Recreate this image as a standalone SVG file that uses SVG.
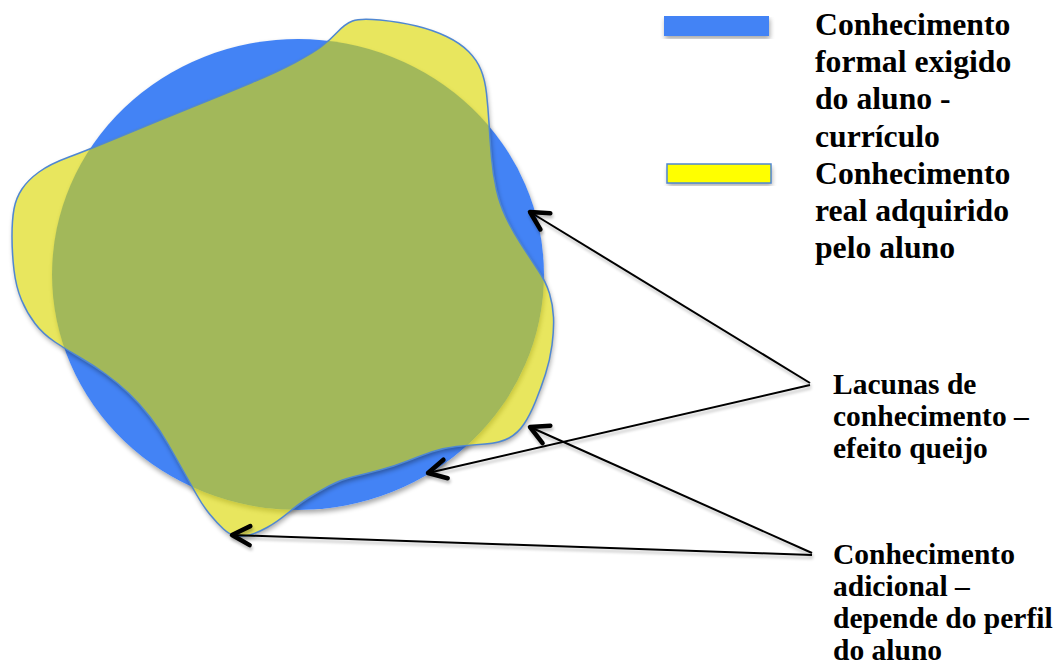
<svg xmlns="http://www.w3.org/2000/svg" width="1057" height="666" viewBox="0 0 1057 666">
  <defs>
    <style>
      .label { font-family: "Liberation Serif", "Times New Roman", serif; font-weight: bold; fill: #000; }
      .legend { font-size: 31.7px; }
      .note { font-size: 29.5px; }
      .conn { fill: none; stroke: #000; stroke-width: 2; marker-end: url(#arrow); }
    </style>
    <!-- soft drop shadow kept outside the casting shape -->
    <filter id="outerShadow" x="-10%" y="-10%" width="120%" height="125%">
      <feGaussianBlur in="SourceAlpha" stdDeviation="2.5"/>
      <feOffset dx="1" dy="3" result="blur"/>
      <feComponentTransfer><feFuncA type="linear" slope="0.35"/></feComponentTransfer>
      <feComposite in2="SourceAlpha" operator="out"/>
    </filter>
    <filter id="lineShadow" x="-5%" y="-20%" width="110%" height="140%">
      <feGaussianBlur in="SourceAlpha" stdDeviation="1.5"/>
      <feOffset dx="1" dy="2.5"/>
      <feComponentTransfer><feFuncA type="linear" slope="0.25"/></feComponentTransfer>
      <feMerge><feMergeNode/><feMergeNode in="SourceGraphic"/></feMerge>
    </filter>
    <marker id="arrow" markerUnits="userSpaceOnUse" viewBox="-24 -14 28 28" refX="0" refY="0" markerWidth="28" markerHeight="28" orient="auto" overflow="visible">
      <path d="M -18 -9.5 L 0 0 L -18 9.5" fill="none" stroke="#000" stroke-width="4.5" stroke-linecap="round" stroke-linejoin="round"/>
    </marker>
    <path id="blobShape" d="M 352.5 21 Q 360 18 380 20 Q 400 22 416.5 26 Q 433 30 446.5 36.5 Q 460 43 468.5 51.5 Q 477 60 481 70 Q 485 80 486.5 93.5 Q 488 107 489 123.5 Q 490 140 491.5 157.5 Q 493 175 496.5 190 Q 500 205 506 217.5 Q 512 230 521 244 Q 530 258 538 270 Q 546 282 549.5 293.5 Q 553 305 553.5 317.5 Q 554 330 552 345 Q 550 360 545.5 374 Q 541 388 535.5 401.5 Q 530 415 524 424 Q 518 433 509 438 Q 500 443 485 444 Q 470 445 456.5 446.5 Q 443 448 431.5 452 Q 420 456 407.5 461 Q 395 466 380 470 Q 365 474 352.5 477 Q 340 480 329 486 Q 318 492 309 497.5 Q 300 503 288.5 512.5 Q 277 522 267 527.5 Q 257 533 249.5 535 Q 242 537 236 536 Q 230 535 223.5 529 Q 217 523 210 514.5 Q 203 506 196.5 494.5 Q 190 483 183 470.5 Q 176 458 168 444 Q 160 430 150 417 Q 140 404 129 393.5 Q 118 383 105.5 374 Q 93 365 80 357.5 Q 67 350 55 342 Q 43 334 35 323.5 Q 27 313 21.5 300 Q 16 287 14 270 Q 12 253 12 236.5 Q 12 220 14 209 Q 16 198 22 189 Q 28 180 39 172 Q 50 164 69 157 Q 88 150 124 135 Q 160 120 193.5 106.5 Q 227 93 252 82.5 Q 277 72 295 62.5 Q 313 53 321.5 46.5 Q 330 40 337.5 32 Q 345 24 352.5 21 Z"/>
  </defs>

  <rect width="1057" height="666" fill="#fff"/>

  <!-- required curriculum: blue disc -->
  <g id="curriculo">
    <ellipse cx="298" cy="274.5" rx="246" ry="235.5" fill="#000" filter="url(#outerShadow)"/>
    <ellipse cx="298" cy="274.5" rx="246" ry="235.5" fill="#4383f5"/>
  </g>

  <!-- acquired knowledge: translucent yellow blob -->
  <g id="conhecimento-real">
    <use href="#blobShape" fill="#000" filter="url(#outerShadow)"/>
    <use href="#blobShape" fill="#dad700" fill-opacity="0.63" stroke="#4f87d2" stroke-width="1.5"/>
  </g>

  <!-- legend -->
  <g id="legenda-formal">
    <rect x="664" y="16" width="105" height="20" fill="#000" filter="url(#outerShadow)"/>
    <rect x="664" y="16" width="105" height="20" fill="#4383f5"/>
    <text class="label legend" x="815">
      <tspan x="815" y="35">Conhecimento</tspan>
      <tspan x="815" y="72.2">formal exigido</tspan>
      <tspan x="815" y="109.4">do aluno -</tspan>
      <tspan x="815" y="146.6">currículo</tspan>
    </text>
  </g>
  <g id="legenda-real">
    <rect x="667" y="164" width="104" height="19" fill="#000" filter="url(#outerShadow)"/>
    <rect x="667" y="164" width="104" height="19" fill="#ffff00" stroke="#4f87d2" stroke-width="1.5"/>
    <text class="label legend" x="815">
      <tspan x="815" y="183.8">Conhecimento</tspan>
      <tspan x="815" y="221">real adquirido</tspan>
      <tspan x="815" y="258.2">pelo aluno</tspan>
    </text>
  </g>

  <g id="lacunas">
    <text class="label note" x="833">
      <tspan x="833" y="394">Lacunas de</tspan>
      <tspan x="833" y="426">conhecimento –</tspan>
      <tspan x="833" y="458">efeito queijo</tspan>
    </text>
  </g>
  <g id="adicional">
    <text class="label note" x="833">
      <tspan x="833" y="564">Conhecimento</tspan>
      <tspan x="833" y="596">adicional –</tspan>
      <tspan x="833" y="628">depende do perfil</tspan>
      <tspan x="833" y="660">do aluno</tspan>
    </text>
  </g>

  <!-- pointers from the notes to the regions -->
  <g id="conectores" filter="url(#lineShadow)">
    <line class="conn" x1="810" y1="383" x2="530" y2="212"/>
    <line class="conn" x1="810" y1="385" x2="428" y2="473"/>
    <line class="conn" x1="812" y1="553" x2="530" y2="427"/>
    <line class="conn" x1="812" y1="555" x2="232" y2="535"/>
  </g>
</svg>
